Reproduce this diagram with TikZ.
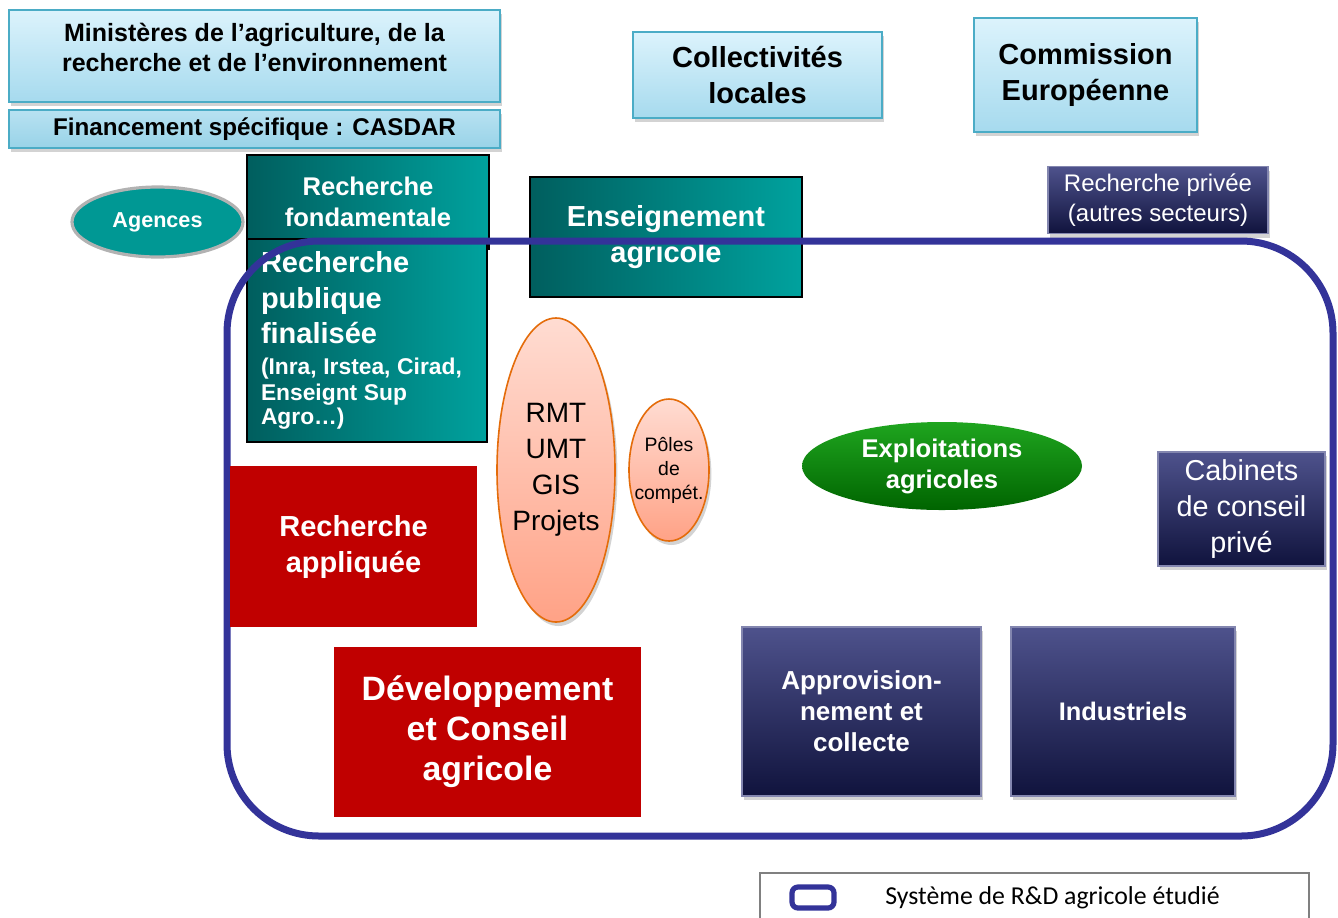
\documentclass[tikz,border=0pt]{standalone}
\usepackage{fontspec}
\setmainfont{Liberation Sans}
\newfontfamily\legendfont{Carlito}
\usepackage{xcolor}
\definecolor{skytop}{HTML}{DCF3FC}
\definecolor{skybot}{HTML}{A6DAEE}
\definecolor{skyline}{HTML}{4BACC6}
\definecolor{tealdark}{HTML}{005E5E}
\definecolor{teallight}{HTML}{00A29E}
\definecolor{navytop}{HTML}{4E528C}
\definecolor{navybot}{HTML}{10133D}
\definecolor{redbox}{HTML}{C00000}
\definecolor{salmontop}{HTML}{FFDCD2}
\definecolor{salmonbot}{HTML}{FFA286}
\definecolor{salmonline}{HTML}{E46C0A}
\definecolor{greentop}{HTML}{1FA51F}
\definecolor{greenbot}{HTML}{006400}
\definecolor{framecol}{HTML}{333399}
\usepackage{tikz}
\usetikzlibrary{shapes.geometric,shadows}

\begin{document}
\begin{tikzpicture}[
  x=0.5pt, y=-0.5pt,
  every node/.append style={inner sep=0pt, align=center},
  shad/.style={drop shadow={opacity=.35, shadow xshift=1.2pt, shadow yshift=-2pt}},
  skybox/.style={rectangle, draw=skyline, line width=0.8pt, top color=skytop, bottom color=skybot, shad},
  tealbox/.style={rectangle, draw=black, line width=0.8pt, shading angle=135, left color=tealdark, right color=teallight, text=white, font=\bfseries},
  navybox/.style={rectangle, draw=navytop!70, line width=0.6pt, top color=navytop, bottom color=navybot, text=white, shad},
  redrect/.style={rectangle, fill=redbox, text=white, font=\bfseries},
  salmon/.style={ellipse, draw=salmonline, line width=0.8pt, top color=salmontop, bottom color=salmonbot, shad, inner xsep=-5pt},
  big/.style={font=\fontsize{14.5}{18}\selectfont\bfseries},
  mid/.style={font=\fontsize{12.8}{15.5}\selectfont\bfseries}
  ]
  \useasboundingbox (0,0) rectangle (1338,917);
  \clip (0,0) rectangle (1338,917);

  % financeurs
  \node[skybox, minimum width=245.5pt, minimum height=46pt] (minis) at (254.5,56) {};
  \node[font=\fontsize{12.5}{15}\selectfont\bfseries] (minislabel) at (254.5,47)
    {Ministères de l’agriculture, de la\\recherche et de l’environnement};
  \node[skybox, minimum width=245.5pt, minimum height=19pt, font=\fontsize{12.1}{14}\selectfont\bfseries,
    top color=skybot!80!white, bottom color=skybot!85!skyline] (casdar) at (254.5,129)
    {Financement spécifique : CASDAR};
  \node[skybox, big, minimum width=124.5pt, minimum height=43pt] (collect) at (757.5,75)
    {Collectivités\\locales};
  \node[skybox, big, minimum width=111.5pt, minimum height=57pt] (commission) at (1085.5,75)
    {Commission\\Européenne};
  \node[navybox, font=\fontsize{12}{15}\selectfont, minimum width=110pt, minimum height=33.5pt] (privee) at (1158,200)
    {Recherche privée\\(autres secteurs)};

  % recherche et enseignement
  \node[ellipse, draw=gray!60, line width=1.6pt, fill=teallight!85!tealdark, text=white,
    font=\fontsize{10.8}{13}\selectfont\bfseries, minimum width=85.5pt, minimum height=35pt] (agences) at (157.5,222) {Agences};
  \node[tealbox, mid, minimum width=121pt, minimum height=47pt] (fonda) at (368,202)
    {Recherche\\fondamentale};
  \node[tealbox, minimum width=120pt, minimum height=101.5pt, text width=106pt, align=left] (publique) at (367,340.5)
    {\fontsize{14.5}{17.8}\selectfont Recherche\\publique\\finalisée\par\vskip2pt
     \fontsize{11.4}{13.2}\selectfont (Inra, Irstea, Cirad,\\Enseignt Sup\\Agro…)};
  \node[tealbox, big, minimum width=136pt, minimum height=60pt] (enseign) at (666,237)
    {Enseignement\\agricole};

  % systeme etudie
  \draw[framecol, line width=3.5pt, rounded corners=46pt] (227,241) rectangle (1333,836);

  \node[redrect, big, minimum width=123.5pt, minimum height=80.5pt] (appliquee) at (353.5,546.5)
    {Recherche\\appliquée};
  \node[redrect, font=\fontsize{16.9}{20}\selectfont\bfseries, minimum width=153.5pt, minimum height=85pt] (devel) at (487.5,732)
    {Développement\\et Conseil\\agricole};
  \node[salmon, font=\fontsize{14}{18}\selectfont, minimum width=59pt, minimum height=152pt] (rmt) at (556,470)
    {RMT\\UMT\\GIS\\Projets};
  \node[salmon, font=\fontsize{9.7}{12}\selectfont, minimum width=40pt, minimum height=71pt] (poles) at (669,470)
    {Pôles\\de\\compét.};
  \node[ellipse, top color=greentop, bottom color=greenbot, text=white, mid, inner xsep=-6pt,
    minimum width=140pt, minimum height=44pt] (exploit) at (942,466) {Exploitations\\agricoles};
  \node[navybox, font=\fontsize{14.4}{18}\selectfont, minimum width=83.5pt, minimum height=57pt] (cabinets) at (1241.5,509)
    {Cabinets\\de conseil\\privé};
  \node[navybox, font=\fontsize{13}{15.5}\selectfont\bfseries, minimum width=119.5pt, minimum height=84.5pt] (appro) at (861.5,711.5)
    {Approvision-\\nement et\\collecte};
  \node[navybox, font=\fontsize{12.7}{15}\selectfont\bfseries, minimum width=112pt, minimum height=84.5pt] (indus) at (1123,711.5)
    {Industriels};

  % legende
  \node[rectangle, draw=gray, line width=0.6pt, minimum width=274.5pt, minimum height=32pt] (legbox) at (1034.5,905) {};
  \node[rectangle, draw=framecol, line width=2.6pt, fill=white, rounded corners=3pt,
    minimum width=21pt, minimum height=10.5pt] (legsym) at (813,897.5) {};
  \node[anchor=west, font=\legendfont\fontsize{12.9}{15}\selectfont] (legtext) at (885,898)
    {Système de R\&D agricole étudié};
\end{tikzpicture}
\end{document}
